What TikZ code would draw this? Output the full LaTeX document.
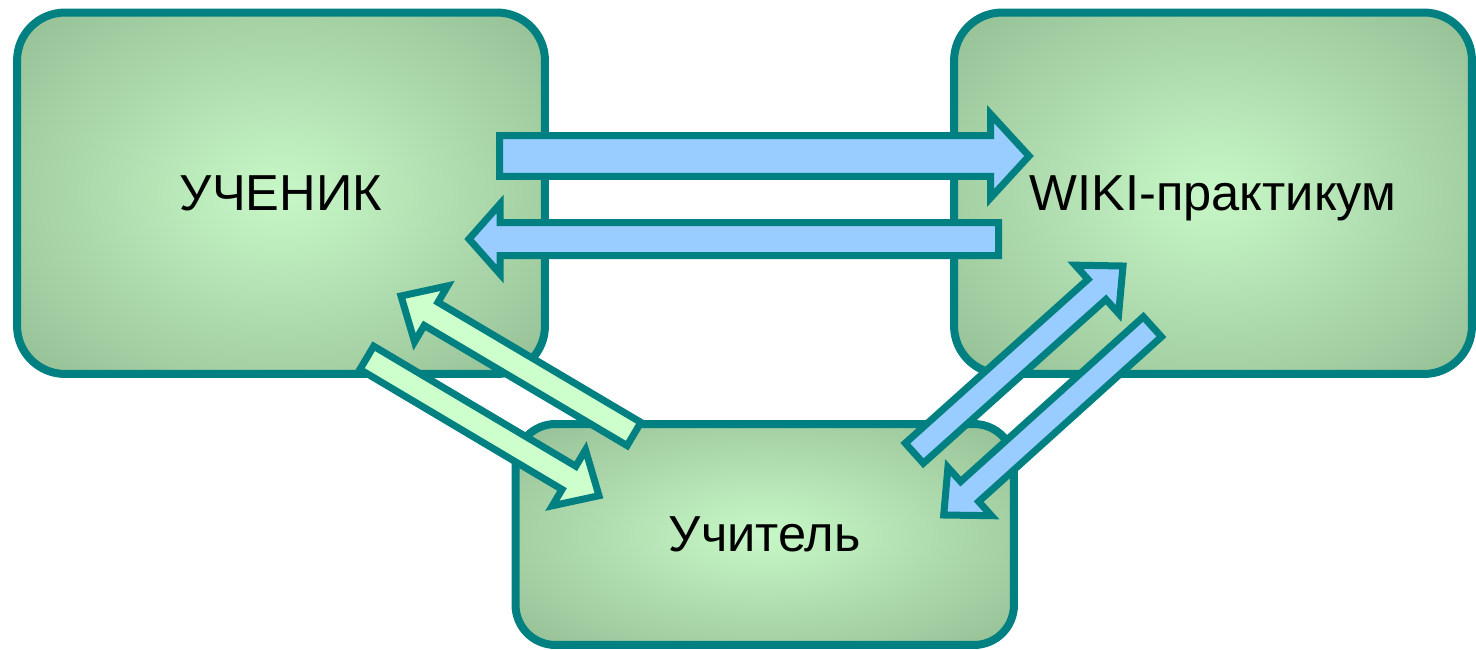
\documentclass[tikz,border=0pt]{standalone}
\usepackage{fontspec}
\setmainfont{Liberation Sans}
\usetikzlibrary{calc,positioning}
\definecolor{rimteal}{HTML}{008080}
\definecolor{flowblue}{HTML}{99CCFF}
\definecolor{flowgreen}{HTML}{CCFFCC}
\pgfdeclareradialshading{boxglow}{\pgfpoint{0bp}{0bp}}{%
	rgb(0bp)=(0.78,0.97,0.78); rgb(36bp)=(0.58,0.745,0.58); rgb(50bp)=(0.58,0.745,0.58)}
\tikzset{
		role/.style={
			rectangle,
			rounded corners=0.96cm,
			draw=rimteal, line width=0.16cm,
			shade, shading=boxglow,
			text depth=0pt,
			font=\fontsize{28.8}{34}\selectfont},
		flow/.style={draw=rimteal, line width=0.14cm, fill=#1},
	}
% block arrow: style, from, to, half shaft, half head, head length
\newcommand{\blockarrow}[6]{%
	\path[#1] let \p1=($(#3)-(#2)$), \n1={atan2(\y1,\x1)} in
	($(#2)+(\n1+90:#4)$) -- ($(#3)+(\n1+180:#6)+(\n1+90:#4)$)
	-- ($(#3)+(\n1+180:#6)+(\n1+90:#5)$) -- (#3)
	-- ($(#3)+(\n1+180:#6)+(\n1-90:#5)$) -- ($(#3)+(\n1+180:#6)+(\n1-90:#4)$)
	-- ($(#2)+(\n1-90:#4)$) -- cycle;}

\begin{document}
\begin{tikzpicture}[x=0.02cm, y=-0.02cm]
			\useasboundingbox (0,0) rectangle (1476,649);
			
			\node[role, minimum width=10.56cm, minimum height=7.23cm] (pupil) at (281,193.25) {УЧЕНИК};
			\node[role, minimum width=10.36cm, minimum height=7.23cm] (wiki) at (1213,193.25) {WIKI-практикум};
			\node[role, rounded corners=0.8cm, minimum width=9.97cm, minimum height=4.42cm] (teacher) at (764.75,534.5) {Учитель};
			
			% arrow ends
			\coordinate (pw-s) at (499.5,156);   \coordinate (pw-e) at (1029,156);
			\coordinate (wp-s) at (998.5,239);   \coordinate (wp-e) at (469,239);
			\coordinate (pt-s) at (366.8,357.8); \coordinate (pt-e) at (599,495.7);
			\coordinate (tp-s) at (634,434);     \coordinate (tp-e) at (401,296);
			\coordinate (tw-s) at (914.3,453.2); \coordinate (tw-e) at (1123,266);
			\coordinate (wt-s) at (1152.4,326.8); \coordinate (wt-e) at (943.7,515);
			
			\blockarrow{flow=flowblue}{pw-s}{pw-e}{0.41cm}{0.84cm}{0.77cm}
			\blockarrow{flow=flowblue}{wp-s}{wp-e}{0.33cm}{0.70cm}{0.62cm}
			\blockarrow{flow=flowgreen}{pt-s}{pt-e}{0.27cm}{0.65cm}{0.70cm}
			\blockarrow{flow=flowgreen}{tp-s}{tp-e}{0.27cm}{0.65cm}{0.70cm}
			\blockarrow{flow=flowblue}{tw-s}{tw-e}{0.27cm}{0.65cm}{0.70cm}
			\blockarrow{flow=flowblue}{wt-s}{wt-e}{0.27cm}{0.65cm}{0.70cm}
\end{tikzpicture}
\end{document}
